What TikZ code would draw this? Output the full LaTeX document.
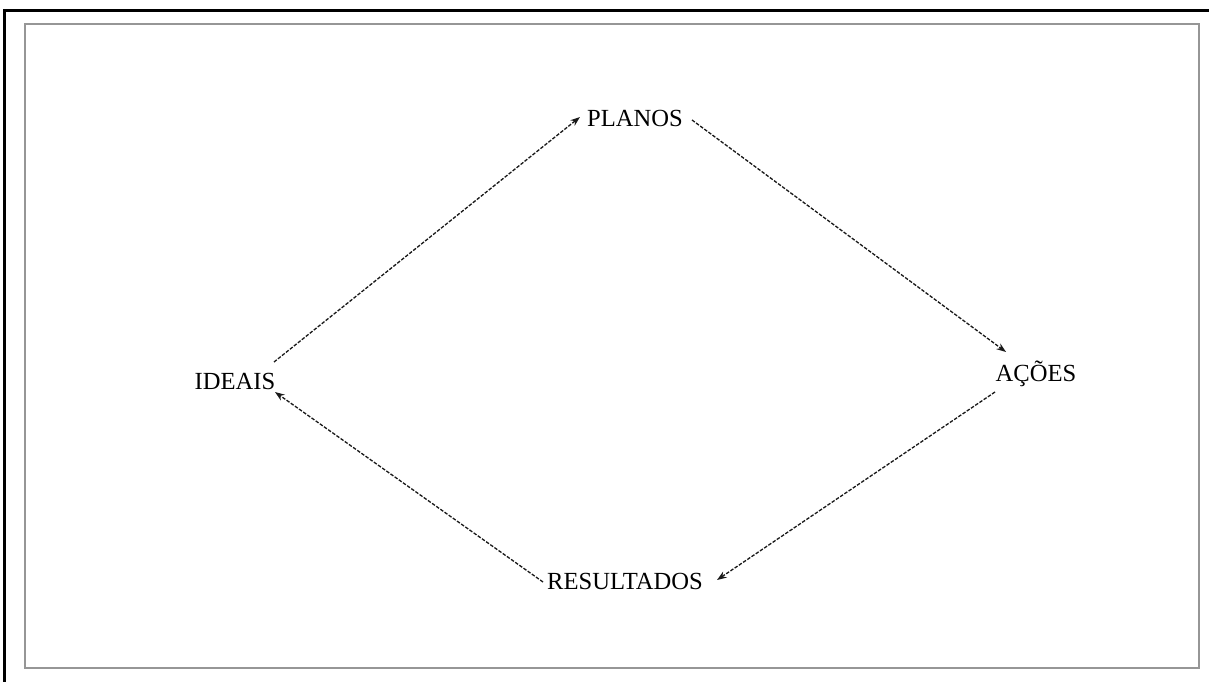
\documentclass[tikz,border=0pt]{standalone}
\usepackage{fontspec}
\setmainfont{Liberation Serif}
\usepackage{tikz}
\usetikzlibrary{arrows.meta, calc}
\definecolor{framegray}{RGB}{150, 150, 150}

\begin{document}
\begin{tikzpicture}[
    x=0.02cm, y=-0.02cm,
    stage/.style={
      inner sep=0pt,
      font=\fontsize{14}{17}\selectfont
    },
    flow/.style={
      -{Stealth[length=5.5pt, width=4pt]},
      line width=0.75pt,
      dash pattern=on 2pt off 0.9pt,
      black!90
    }
  ]
    \useasboundingbox (0,0) rectangle (1209,682);

    % Frame
    \draw[line width=1.7pt, black] (4.5,682) -- (4.5,10.5) -- (1209,10.5);
    \draw[line width=1.1pt, framegray] (25,24) rectangle (1199,668);

    % Stages
    \node[stage] (planos) at (635,118) {PLANOS};
    \node[stage] (acoes) at (1036,374) {AÇÕES};
    \node[stage] (resultados) at (625,581) {RESULTADOS};
    \node[stage] (ideais) at (235,381) {IDEAIS};

    % Cycle
    \draw[flow] ($(ideais)+(39,-19)$) -- ($(planos)+(-55,-1)$);
    \draw[flow] ($(planos)+(57,2)$) -- ($(acoes)+(-30,-22)$);
    \draw[flow] ($(acoes)+(-41,18)$) -- ($(resultados)+(92,-1)$);
    \draw[flow] ($(resultados)+(-82,1)$) -- ($(ideais)+(40,11)$);

  \end{tikzpicture}
\end{document}
